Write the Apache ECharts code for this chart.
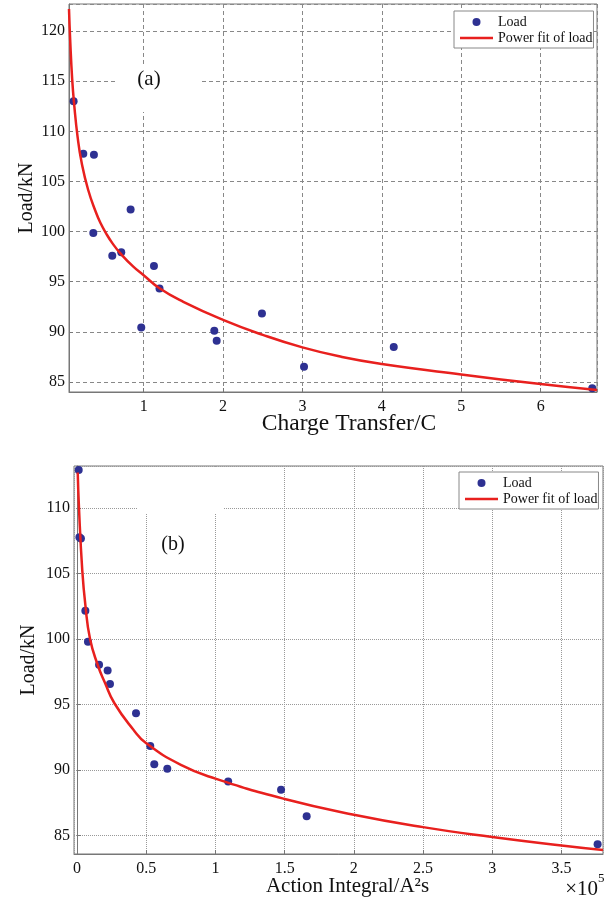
<!DOCTYPE html>
<html>
<head>
<meta charset="utf-8">
<script src="https://cdn.jsdelivr.net/npm/echarts@6/dist/echarts.min.js"></script>
<style>
html,body{margin:0;padding:0;background:#fff;}
#chart{width:612px;height:906px;}
</style>
</head>
<body>
<div id="chart"></div>
<script>
// ---- (a) Load vs Charge Transfer ----
const chargeX = [0.118, 0.24, 0.374, 0.836, 0.366, 0.605, 0.718, 1.13, 1.20, 0.97, 1.89, 1.92, 2.49, 3.02, 4.15, 6.65];
const loadA   = [113.0, 107.77, 107.67, 102.2, 99.87, 97.6, 97.93, 96.57, 94.33, 90.43, 90.1, 89.1, 91.83, 86.53, 88.5, 84.37];
const fitAX = [0.06, 0.075, 0.10, 0.125, 0.169, 0.219, 0.30, 0.40, 0.46, 0.525, 0.61, 0.71, 0.87, 1.0, 1.2, 1.5, 2.0, 2.5, 3.0, 3.5, 4.0, 5.0, 6.0, 6.71];
const fitAY = [122.2, 119.1, 115.2, 112.7, 109.4, 106.9, 104.2, 101.9, 100.8, 99.85, 98.8, 97.8, 96.5, 95.65, 94.35, 93.0, 91.2, 89.7, 88.45, 87.5, 86.8, 85.75, 84.8, 84.2];

// ---- (b) Load vs Action Integral (x in units of 1e5 A^2s) ----
const actionX = [0.012, 0.017, 0.028, 0.06, 0.079, 0.159, 0.221, 0.238, 0.426, 0.529, 0.558, 0.652, 1.092, 1.474, 1.659, 3.761];
const loadB   = [112.9, 107.77, 107.67, 102.16, 99.8, 98.03, 97.6, 96.56, 94.34, 91.83, 90.45, 90.1, 89.14, 88.5, 86.48, 84.34];
const fitBX = [0.005, 0.014, 0.038, 0.06, 0.094, 0.15, 0.2, 0.27, 0.406, 0.5, 0.75, 1.0, 1.5, 2.0, 2.5, 3.0, 3.5, 3.8];
const fitBY = [112.7, 110.0, 105.2, 102.6, 100.0, 98.0, 96.7, 95.1, 93.1, 92.05, 90.4, 89.35, 87.8, 86.6, 85.65, 84.9, 84.25, 83.9];

const seriesNames = ['Load', 'Power fit of load'];
const panelLabels = ['(a)', '(b)'];
const axisNames = { xa: 'Charge Transfer/C', xb: 'Action Integral/A²s', y: 'Load/kN' };

const zip = (xs, ys) => xs.map((x, i) => [x, ys[i]]);
const FONT = '"Liberation Serif", "Times New Roman", serif';
const DOT = '#2e3192';
const RED = '#e8201e';
const FRAME = '#777';

function niceLabel(step) {
  return v => {
    const r = Math.round(v / step) * step;
    return Math.abs(v - r) < 1e-6 ? String(+r.toFixed(2)) : '';
  };
}

function xAxisCfg(idx, min, max, splitNumber, name, nameSize, nameGap, padLeft, dashType, gridColor, step) {
  return {
    type: 'value', gridIndex: idx, min, max, splitNumber,
    name, nameLocation: 'middle', nameGap, nameMoveOverlap: false,
    nameTextStyle: { fontFamily: FONT, fontSize: nameSize, color: '#111', padding: [0, 0, 0, padLeft] },
    axisLine: { show: true, lineStyle: { color: FRAME, width: 1 } },
    axisTick: { show: true, inside: true, length: 4, lineStyle: { color: FRAME } },
    axisLabel: { fontFamily: FONT, fontSize: 16, color: '#111', margin: 7, formatter: niceLabel(step), showMinLabel: false, showMaxLabel: false },
    splitLine: { show: true, lineStyle: { color: gridColor, type: dashType, width: 1 } }
  };
}
function yAxisCfg(idx, min, max, splitNumber, nameGap, dashType, gridColor) {
  return {
    type: 'value', gridIndex: idx, min, max, splitNumber,
    name: axisNames.y, nameLocation: 'middle', nameGap, nameMoveOverlap: false,
    nameTextStyle: { fontFamily: FONT, fontSize: 20, color: '#111' },
    axisLine: { show: true, lineStyle: { color: FRAME, width: 1 } },
    axisTick: { show: true, inside: true, length: 4, lineStyle: { color: FRAME } },
    axisLabel: { fontFamily: FONT, fontSize: 16, color: '#111', margin: 4, formatter: niceLabel(5), showMinLabel: false, showMaxLabel: false },
    splitLine: { show: true, lineStyle: { color: gridColor, type: dashType, width: 1 } }
  };
}
function legendCfg(left, top) {
  return {
    data: [
      { name: seriesNames[0], icon: 'circle' },
      { name: seriesNames[1], icon: 'path://M0,0 L33,0 L33,2.5 L0,2.5 Z' }
    ],
    orient: 'vertical', left, top,
    itemWidth: 33, itemHeight: 8, itemGap: 2, itemTextGap: 1,
    padding: [4, 1, 3, 6], borderColor: '#888', borderWidth: 1, backgroundColor: '#fff',
    selectedMode: false,
    textStyle: { fontFamily: FONT, fontSize: 14, color: '#111', lineHeight: 14 }
  };
}

const chart = echarts.init(document.getElementById('chart'), null, { renderer: 'canvas' });
chart.setOption({
  animation: false,
  backgroundColor: '#fff',
  grid: [
    { left: 69, top: 4, width: 528, height: 388, show: true, borderColor: FRAME, borderWidth: 1, backgroundColor: 'transparent' },
    { left: 74, top: 466, width: 529, height: 388, show: true, borderColor: FRAME, borderWidth: 1, backgroundColor: 'transparent' }
  ],
  xAxis: [
    xAxisCfg(0, 0.06, 6.71, 6, axisNames.xa, 23.5, 20, 32, [4, 3], '#888', 1),
    xAxisCfg(1, -0.022, 3.8, 8, axisNames.xb, 21, 22, 18, [1, 1], '#999', 0.5)
  ],
  yAxis: [
    yAxisCfg(0, 84, 122.7, 8, 32, [4, 3], '#888'),
    yAxisCfg(1, 83.6, 113.2, 6, 35, [1, 1], '#999')
  ],
  legend: [legendCfg(454, 11), legendCfg(459, 472)],
  series: [
    { name: seriesNames[0], type: 'scatter', xAxisIndex: 0, yAxisIndex: 0, data: zip(chargeX, loadA), symbol: 'circle', symbolSize: 8, itemStyle: { color: DOT, opacity: 1 }, z: 3 },
    { name: seriesNames[1], type: 'line', xAxisIndex: 0, yAxisIndex: 0, data: zip(fitAX, fitAY), showSymbol: false, symbol: 'none', smooth: 0.5, lineStyle: { color: RED, width: 2.5 }, itemStyle: { color: RED }, z: 4 },
    { name: seriesNames[0], type: 'scatter', xAxisIndex: 1, yAxisIndex: 1, data: zip(actionX, loadB), symbol: 'circle', symbolSize: 8, itemStyle: { color: DOT, opacity: 1 }, z: 3 },
    { name: seriesNames[1], type: 'line', xAxisIndex: 1, yAxisIndex: 1, data: zip(fitBX, fitBY), showSymbol: false, symbol: 'none', smooth: 0.5, lineStyle: { color: RED, width: 2.5 }, itemStyle: { color: RED }, z: 4 }
  ],
  graphic: [
    { type: 'rect', z: 5, shape: { x: 115, y: 66, width: 87, height: 46 }, style: { fill: '#fff' } },
    { type: 'text', z: 6, x: 149, y: 79, style: { text: panelLabels[0], font: '21px ' + FONT, fill: '#111', align: 'center', verticalAlign: 'middle' } },
    { type: 'rect', z: 5, shape: { x: 138, y: 467, width: 85, height: 46 }, style: { fill: '#fff' } },
    { type: 'text', z: 6, x: 173, y: 545, style: { text: panelLabels[1], font: '20px ' + FONT, fill: '#111', align: 'center', verticalAlign: 'middle' } },
    { type: 'text', z: 6, x: 598, y: 889, style: { text: '×10', font: '21px ' + FONT, fill: '#111', align: 'right', verticalAlign: 'middle' } },
    { type: 'text', z: 6, x: 598, y: 879, style: { text: '5', font: '13px ' + FONT, fill: '#111', align: 'left', verticalAlign: 'middle' } }
  ]
});
</script>
</body>
</html>
